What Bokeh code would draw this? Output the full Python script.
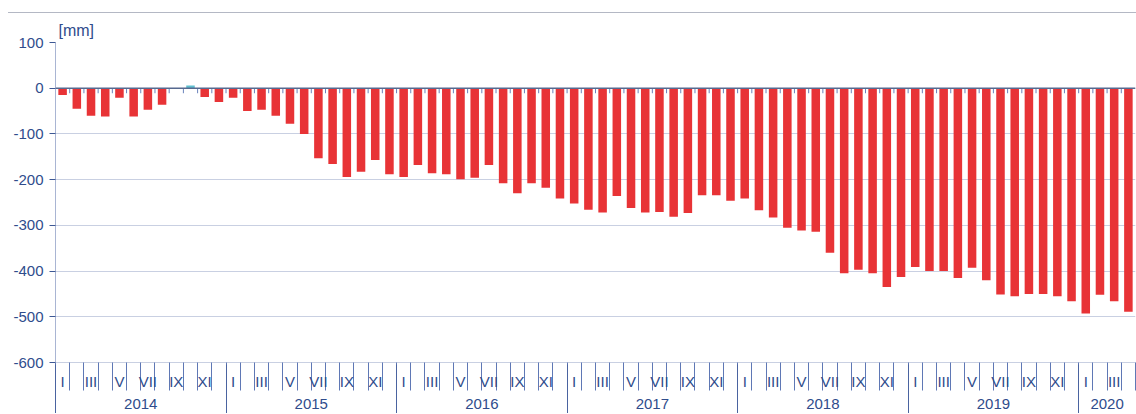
from bokeh.plotting import figure
from bokeh.models import (ColumnDataSource, Range1d, FixedTicker, LinearAxis,
                          CustomJSTickFormatter, Span)
from bokeh.embed import file_html
from bokeh.resources import INLINE

# ---- data -------------------------------------------------------------
years = ["2014", "2015", "2016", "2017", "2018", "2019", "2020"]
roman = ["I", "II", "III", "IV", "V", "VI", "VII", "VIII", "IX", "X", "XI", "XII"]

v2014 = [-15, -45, -60, -62, -21, -62, -47, -36, 0, 6, -19, -30]
v2015 = [-21, -50, -47, -60, -78, -100, -153, -166, -194, -183, -157, -188]
v2016 = [-194, -168, -186, -188, -199, -196, -168, -208, -230, -208, -218, -241]
v2017 = [-252, -266, -272, -236, -262, -272, -271, -281, -273, -234, -234, -246]
v2018 = [-241, -267, -283, -305, -311, -314, -360, -405, -397, -405, -435, -413]
v2019 = [-391, -400, -400, -415, -393, -420, -451, -455, -450, -450, -455, -466]
v2020 = [-493, -452, -466, -489]

y_ticks = [100, 0, -100, -200, -300, -400, -500, -600]
unit_label = "[mm]"

# ---- styling ----------------------------------------------------------
NEG = "#e83336"
POS = "#5fbfcf"
TXT = "#2f4c8c"
GRID = "#c9d0e2"
FONT = "Liberation Sans"
LABEL_H = 18          # measured label box height for 15px text
M_TICK = 28           # month separator length (px)
M_STANDOFF = -18
Y_TICK = 24
Y_STANDOFF = -18
M_AXIS_H = M_TICK + M_STANDOFF + LABEL_H

values = v2014 + v2015 + v2016 + v2017 + v2018 + v2019 + v2020
n = len(values)
xs = [i + 0.5 for i in range(n)]
colors = [POS if v > 0 else NEG for v in values]
src = ColumnDataSource(dict(x=xs, v=values, c=colors))

p = figure(width=1128, height=401, x_range=Range1d(0, n),
           y_range=Range1d(y_ticks[-1], y_ticks[0]),
           x_axis_type=None, output_backend="svg", toolbar_location=None,
           min_border_left=47, min_border_right=1, min_border_top=29,
           min_border_bottom=52)
p.outline_line_color = None
p.background_fill_color = "white"
p.border_fill_color = "white"
p.styles = {"border-top": "1px solid #b4b8c4", "margin-top": "12px",
            "margin-left": "8px"}

p.title.text = unit_label
p.title.align = "left"
p.title.offset = 3
p.title.text_font = FONT
p.title.text_font_size = "16px"
p.title.text_font_style = "normal"
p.title.text_color = TXT
p.title.standoff = 8

# y axis
ya = p.yaxis[0]
ya.ticker = FixedTicker(ticks=y_ticks)
ya.formatter = CustomJSTickFormatter(code="return tick.toFixed(0)")
ya.major_label_text_font = FONT
ya.major_label_text_font_size = "15px"
ya.major_label_text_color = TXT
ya.axis_line_color = "#a9b5d3"
ya.major_tick_out = 6
ya.major_tick_in = 0
ya.major_tick_line_color = "#3d5894"
ya.minor_tick_line_color = None
ya.major_label_standoff = 6
p.ygrid.ticker = FixedTicker(ticks=y_ticks)
p.ygrid.grid_line_color = GRID

boundaries = list(range(0, n + 1))
year_bounds = list(range(0, n, 12))

# small month ticks under the zero line
p.segment(x0=boundaries[1:-1], y0=[0] * (n - 1), x1=boundaries[1:-1],
          y1=[-11] * (n - 1), line_color="#6a83bb", line_width=1)

# bars
p.vbar(x="x", top="v", bottom=0, width=0.6, fill_color="c", line_color=None,
       source=src)

# zero line
p.add_layout(Span(location=0, dimension="width", line_color="#56698f",
                  line_width=1.5))

# month labels + month separator lines
mlab_axis = LinearAxis(
    ticker=FixedTicker(ticks=[i + 0.5 for i in range(0, n, 2)],
                       minor_ticks=boundaries),
    formatter=CustomJSTickFormatter(args=dict(labels=roman),
                                    code="return labels[Math.floor(tick) % 12]"),
    axis_line_color=GRID, major_tick_out=0, major_tick_in=0,
    minor_tick_out=M_TICK, minor_tick_in=0, minor_tick_line_color="#5f78b5",
    major_label_standoff=M_STANDOFF,
    major_label_text_font=FONT, major_label_text_font_size="15px",
    major_label_text_color=TXT)
p.add_layout(mlab_axis, "below")

# year labels + year separator lines
year_centers = [(12 * k + min(12 * k + 12, n)) / 2 for k in range(len(years))]
ylab_axis = LinearAxis(
    ticker=FixedTicker(ticks=year_centers, minor_ticks=year_bounds),
    formatter=CustomJSTickFormatter(args=dict(labels=years),
                                    code="return labels[Math.floor(tick / 12)]"),
    axis_line_color=None, major_tick_out=0, major_tick_in=0,
    minor_tick_in=M_AXIS_H, minor_tick_out=Y_TICK,
    minor_tick_line_color="#4a63a0",
    major_label_standoff=Y_STANDOFF,
    major_label_text_font=FONT, major_label_text_font_size="15px",
    major_label_text_color=TXT)
p.add_layout(ylab_axis, "below")

open("out.html", "w").write(file_html(p, INLINE))
